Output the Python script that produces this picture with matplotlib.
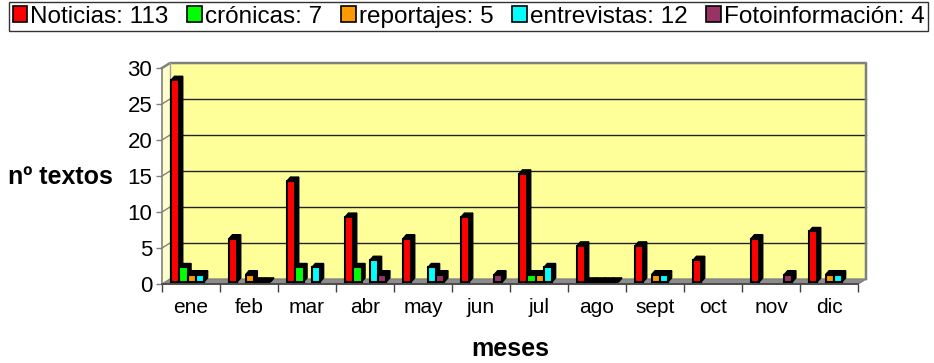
import matplotlib
matplotlib.use("Agg")
import matplotlib.pyplot as plt
from matplotlib.patches import Polygon, Rectangle, Patch

plt.rcParams["font.family"] = ["Liberation Sans", "DejaVu Sans"]

# ---------- datos ----------
meses = ["ene", "feb", "mar", "abr", "may", "jun", "jul", "ago", "sept", "oct", "nov", "dic"]

noticias      = [28, 6, 14, 9, 6, 9, 15, 5, 5, 3, 6, 7]
cronicas      = [2, None, 2, 2, None, None, 1, 0, None, None, None, None]
reportajes    = [1, 1, None, None, None, None, 1, 0, 1, None, None, 1]
entrevistas   = [1, 0, 2, 3, 2, None, 2, 0, 1, None, None, 1]
fotoinfo      = [None, 0, None, 1, 1, 1, None, 0, None, None, 1, None]

series_nombres = ["Noticias: 113", "crónicas: 7", "reportajes: 5",
                  "entrevistas: 12", "Fotoinformación: 4"]
series_colores = ["#FF0000", "#00FF00", "#FF9900", "#00FFFF", "#993366"]
series = [noticias, cronicas, reportajes, entrevistas, fotoinfo]

# ---------- figura ----------
W, H = 934, 363
fig = plt.figure(figsize=(W / 100, H / 100), dpi=100)
ax = fig.add_axes([162 / W, (H - 284) / H, 696 / W, 216 / H])

n = len(meses)
ymax = 30
ax.set_xlim(0, n)
ax.set_ylim(0, ymax)

# profundidad de la pared (efecto 3D)
dx, dy = 0.138, 0.69

pared_lat = Polygon([(0, 0), (0, ymax), (dx, ymax + dy), (dx, dy)],
                    closed=True, facecolor="#FFFFCC", edgecolor="none",
                    clip_on=False, zorder=0)
pared = Polygon([(dx, dy), (dx, ymax + dy), (n + dx, ymax + dy), (n + dx, dy)],
                closed=True, facecolor="#FFFF99", edgecolor="none",
                clip_on=False, zorder=0)
suelo = Polygon([(0, 0), (n, 0), (n + dx, dy), (dx, dy)],
                closed=True, facecolor="#8C8C8C", edgecolor="#808080",
                lw=1, clip_on=False, zorder=0.5)
for p in (pared_lat, pared, suelo):
    ax.add_patch(p)

# líneas de división
for v in range(5, ymax, 5):
    ax.plot([0, dx], [v, v + dy], color="#808080", lw=1, clip_on=False, zorder=0.6)
    ax.plot([dx, n + dx], [v + dy, v + dy], color="#222222", lw=1,
            clip_on=False, zorder=0.6)

# borde de la pared
ax.plot([0, dx, n + dx, n + dx], [ymax, ymax + dy, ymax + dy, dy],
        color="#808080", lw=1.8, clip_on=False, zorder=0.7)
ax.plot([dx, dx], [dy, ymax + dy], color="#A0A0A0", lw=1, clip_on=False, zorder=0.7)

# ---------- barras ----------
inicio, ancho = 0.155, 0.143
bx, by = 0.06, 0.55
base = 0.3

for c in range(n):
    for s, datos in enumerate(series):
        v = datos[c]
        if v is None:
            continue
        x0 = c + inicio + s * ancho
        lado = Polygon([(x0 + ancho, base), (x0 + ancho + bx, base + by),
                        (x0 + ancho + bx, base + v + by), (x0 + ancho, base + v)],
                       closed=True, facecolor="black", edgecolor="black",
                       lw=1, clip_on=False, zorder=2)
        tapa = Polygon([(x0, base + v), (x0 + bx, base + v + by),
                        (x0 + ancho + bx, base + v + by), (x0 + ancho, base + v)],
                       closed=True, facecolor="black", edgecolor="black",
                       lw=1, clip_on=False, zorder=2)
        frente = Rectangle((x0, base), ancho, v, facecolor=series_colores[s],
                           edgecolor="black", lw=1.5, clip_on=False, zorder=2)
        ax.add_patch(lado)
        ax.add_patch(tapa)
        ax.add_patch(frente)

# ---------- ejes ----------
for lado in ("top", "right"):
    ax.spines[lado].set_visible(False)
ax.spines["left"].set_color("#808080")
ax.spines["bottom"].set_color("#404040")
ax.spines["left"].set_linewidth(1.2)
ax.spines["bottom"].set_linewidth(1.2)

ax.set_yticks(range(0, ymax + 1, 5))
ax.tick_params(axis="y", length=4, width=1, color="#808080", pad=3, labelsize=16)

ax.set_xticks([c + 0.5 for c in range(n)])
ax.set_xticklabels(meses)
ax.set_xticks(range(n + 1), minor=True)
ax.tick_params(axis="x", which="major", length=0, pad=10, labelsize=15)
ax.tick_params(axis="x", which="minor", length=6, width=1, color="#404040")

fig.text(8 / W, 1 - 177 / H, "nº textos", fontsize=18, fontweight="bold",
         ha="left", va="center")
fig.text(510 / W, 1 - 349 / H, "meses", fontsize=18, fontweight="bold",
         ha="center", va="center")

# ---------- leyenda ----------
manejadores = [Patch(facecolor=col, edgecolor="black", lw=1.2) for col in series_colores]
ley = fig.legend(manejadores, series_nombres, ncol=5, loc="upper left",
                 bbox_to_anchor=(9 / W, 1 - 2 / H), fontsize=17.5,
                 handlelength=0.6, handleheight=0.6, handletextpad=0.12,
                 columnspacing=0.78, borderpad=0.15, borderaxespad=0,
                 frameon=True, fancybox=False)
ley.get_frame().set_edgecolor("black")
ley.get_frame().set_linewidth(1)

fig.savefig("out.png", dpi=100)
